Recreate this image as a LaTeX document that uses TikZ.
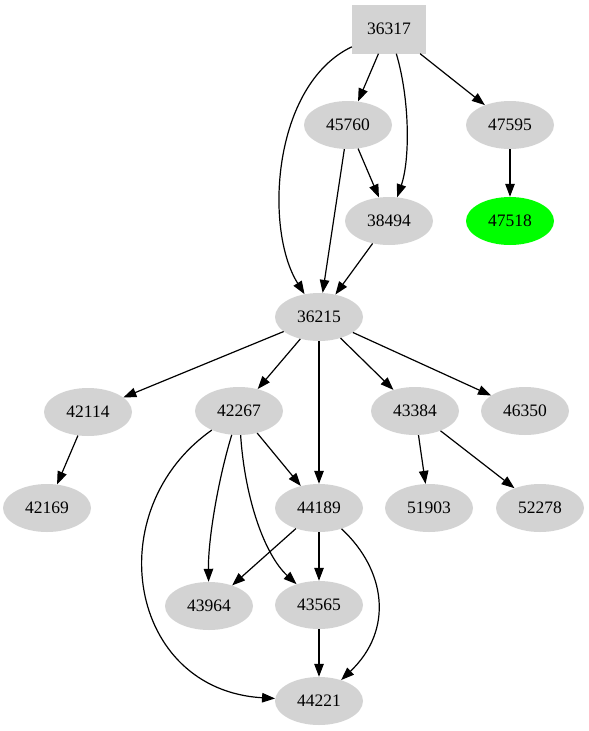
\documentclass[tikz,border=0pt]{standalone}
\usepackage{fontspec}
\setmainfont{Liberation Serif}
\usetikzlibrary{arrows.meta, shapes.geometric}

\definecolor{nodegray}{RGB}{211,211,211}
\definecolor{hitgreen}{RGB}{0,255,0}

\begin{document}
\begin{tikzpicture}[
    x=1pt, y=-1pt,
    job/.style={ellipse, fill=nodegray, minimum width=88pt, minimum height=48pt, inner sep=0pt, font=\fontsize{17.5}{20}\selectfont},
    root/.style={rectangle, fill=nodegray, minimum width=74pt, minimum height=49pt, inner sep=0pt, font=\fontsize{17.5}{20}\selectfont},
    found/.style={job, fill=hitgreen},
    arrow/.style={-{Triangle[length=13pt, width=9.5pt]}, line width=1.2pt}
]
\useasboundingbox (0,0) rectangle (589,731);

% top level
\node[root] (n36317) at (389,29) {36317};
\node[job] (n45760) at (348,125) {45760};
\node[job] (n47595) at (510,125) {47595};
\node[job] (n38494) at (389,221) {38494};
\node[found] (n47518) at (510,221) {47518};

% middle
\node[job] (n36215) at (319,317) {36215};
\node[job] (n42114) at (88,412) {42114};
\node[job] (n42267) at (239,411) {42267};
\node[job] (n43384) at (415,411) {43384};
\node[job] (n46350) at (525,411) {46350};

% lower
\node[job] (n42169) at (47,508) {42169};
\node[job] (n44189) at (319,508) {44189};
\node[job] (n51903) at (429,508) {51903};
\node[job] (n52278) at (540,508) {52278};
\node[job] (n43964) at (209,606) {43964};
\node[job] (n43565) at (319,605) {43565};
\node[job] (n44221) at (319,701) {44221};

% edges from 36317
\draw[arrow] (n36317) -- (n45760);
\draw[arrow] (n36317) -- (n47595);
\draw[arrow] (n36317) .. controls (410,100) and (410,160) .. (n38494);
\draw[arrow] (n36317) .. controls (272,85) and (264,230) .. (n36215);
\draw[arrow] (n45760) -- (n38494);
\draw[arrow] (n45760) -- (n36215);
\draw[arrow] (n38494) -- (n36215);
\draw[arrow] (n47595) -- (n47518);

% edges from 36215
\draw[arrow] (n36215) -- (n42114);
\draw[arrow] (n36215) -- (n42267);
\draw[arrow] (n36215) -- (n44189);
\draw[arrow] (n36215) -- (n43384);
\draw[arrow] (n36215) -- (n46350);
\draw[arrow] (n42114) -- (n42169);

% edges from 42267
\draw[arrow] (n42267) -- (n44189);
\draw[arrow] (n42267) .. controls (218,480) and (208,540) .. (n43964);
\draw[arrow] (n42267) .. controls (245,500) and (265,555) .. (n43565);
\draw[arrow] (n42267) .. controls (98,510) and (128,690) .. (n44221);

% edges from 43384
\draw[arrow] (n43384) -- (n51903);
\draw[arrow] (n43384) -- (n52278);

% edges from 44189
\draw[arrow] (n44189) -- (n43964);
\draw[arrow] (n44189) -- (n43565);
\draw[arrow] (n44189) .. controls (386,570) and (394,630) .. (n44221);
\draw[arrow] (n43565) -- (n44221);

\end{tikzpicture}
\end{document}
